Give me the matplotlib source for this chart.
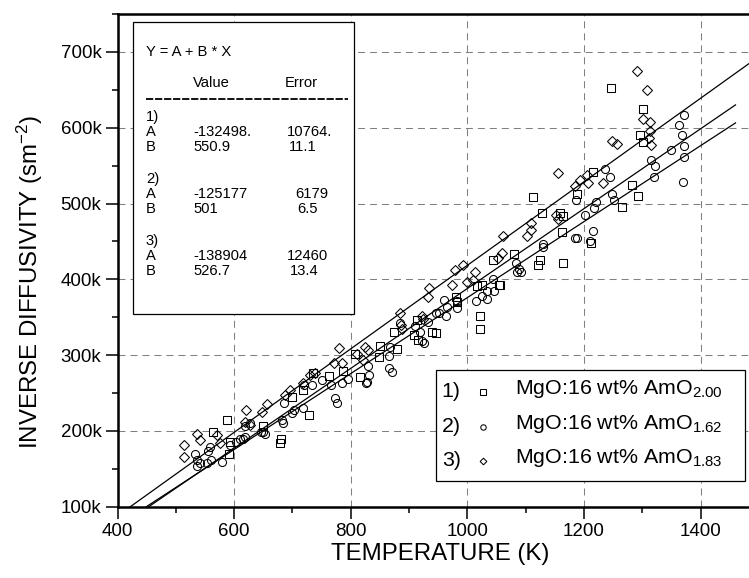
import matplotlib
matplotlib.use('Agg')
import matplotlib.pyplot as plt
from matplotlib.patches import Rectangle
from matplotlib.lines import Line2D
from matplotlib.ticker import MultipleLocator, FuncFormatter
import numpy as np

plt.rcParams['font.family'] = ['Liberation Sans', 'DejaVu Sans']
plt.rcParams['mathtext.fontset'] = 'custom'
plt.rcParams['mathtext.rm'] = 'Liberation Sans'
plt.rcParams['mathtext.it'] = 'Liberation Sans:italic'

# ---- data (temperature K, inverse diffusivity in k sm^-2) ----
t1 = [1302, 1297, 1301, 1216, 1189, 1113, 1128, 1159, 1164, 1283, 1292, 1265, 1162,
      1080, 1125, 1121, 1164, 1056, 1213, 1044, 1022, 1022, 1025, 1017, 1055, 980,
      913, 874, 909, 916, 940, 946, 850, 880, 808, 849, 816, 787, 762, 736, 719, 982,
      587, 563, 593, 591, 680, 678, 650, 728, 1246, 700]
v1 = [625, 591, 581, 542, 512, 508, 487, 488, 483, 524, 510, 495, 463,
      434, 425, 419, 421, 392, 448, 425, 352, 334, 393, 391, 393, 377,
      346, 330, 326, 320, 330, 329, 312, 308, 302, 298, 271, 279, 272, 277, 254, 370,
      214, 199, 186, 169, 189, 184, 206, 221, 652, 245]

t2 = [1372, 1363, 1368, 1372, 1372, 1370, 1349, 1315, 1322, 1321, 1236, 1245, 1248,
      1252, 1220, 1218, 1202, 1186, 1185, 1188, 1216, 1210, 1130, 1129, 1083, 1089,
      1092, 1086, 1044, 1034, 1046, 1025, 1034, 1015, 982, 982, 960, 965, 963, 952,
      947, 933, 919, 925, 923, 910, 885, 867, 866, 871, 866, 830, 831, 826, 828, 796,
      785, 767, 750, 733, 720, 773, 559, 556, 560, 553, 537, 537, 533, 579, 593, 604,
      610, 619, 615, 653, 650, 684, 682, 699, 686, 702, 718, 619, 627, 646, 776, 542]
v2 = [617, 604, 590, 576, 562, 528, 571, 558, 550, 535, 545, 535, 513,
      504, 502, 494, 485, 504, 455, 455, 464, 450, 447, 443, 422, 414,
      409, 410, 400, 385, 384, 378, 374, 371, 372, 362, 373, 363, 351, 356,
      356, 344, 331, 316, 318, 338, 342, 311, 299, 278, 283, 285, 274, 263, 265, 269,
      263, 261, 267, 261, 261, 243, 179, 173, 162, 157, 162, 154, 170, 159, 181, 186,
      189, 192, 189, 196, 199, 210, 214, 223, 237, 227, 230, 206, 210, 199, 237, 157]

t3 = [1301, 1313, 1313, 1312, 1315, 1248, 1256, 1156, 1194, 1206, 1207, 1185, 1233,
      1153, 1156, 1110, 1110, 1103, 1061, 1059, 1053, 993, 979, 1014, 999, 1010, 934,
      933, 973, 885, 886, 888, 922, 924, 780, 825, 830, 771, 785, 810, 821, 739, 730,
      719, 514, 514, 537, 542, 570, 576, 620, 619, 627, 656, 647, 696, 687, 1291, 1308]
v3 = [611, 608, 595, 587, 577, 583, 578, 540, 531, 538, 527, 523, 527,
      485, 480, 474, 465, 457, 457, 435, 428, 419, 412, 410, 396, 399, 389,
      377, 392, 356, 340, 334, 351, 348, 310, 311, 307, 289, 290, 302, 294, 277, 274,
      263, 181, 166, 196, 188, 195, 184, 228, 212, 208, 236, 225, 254, 247, 675, 650]

# linear fits Y = A + B*X
fit_a = [-132498., -125177, -138904]
fit_b = [550.9, 501, 526.7]
fit_err_a = ['10764.', '6179', '12460']
fit_err_b = ['11.1', '6.5', '13.4']
fit_end = [1500, 1460, 1460]

labels = ['MgO:16 wt% AmO$_{2.00}$', 'MgO:16 wt% AmO$_{1.62}$', 'MgO:16 wt% AmO$_{1.83}$']
markers = ['s', 'o', 'D']
msizes = [5.3, 5.8, 4.9]

W, H = 749, 578
fig = plt.figure(figsize=(W / 100, H / 100), dpi=100)


def fx(x):
    return x / W


def fy(y):
    return 1 - y / H


ax_l, ax_r, ax_t, ax_b = 117.5, 758.8, 14, 506.7
ax = fig.add_axes([fx(ax_l), fy(ax_b), (ax_r - ax_l) / W, (ax_b - ax_t) / H])

for t, v, m, ms in zip([t1, t2, t3], [v1, v2, v3], markers, msizes):
    ax.plot(t, np.array(v) * 1000, linestyle='none', marker=m, ms=ms,
            mfc='none', mec='black', mew=0.75, zorder=3)

for a, b, end in zip(fit_a, fit_b, fit_end):
    xx = np.array([400, end])
    ax.plot(xx, a + b * xx, color='black', lw=0.9, zorder=2)

ax.set_xlim(400, 1500)
ax.set_ylim(100000, 750000)
ax.xaxis.set_major_locator(MultipleLocator(200))
ax.xaxis.set_minor_locator(MultipleLocator(100))
ax.yaxis.set_major_locator(MultipleLocator(100000))
ax.yaxis.set_minor_locator(MultipleLocator(50000))
ax.yaxis.set_major_formatter(FuncFormatter(lambda v, p: f'{int(round(v / 1000))}k'))

ax.grid(True, which='major', color='#808080', lw=0.75, linestyle=(0, (6.7, 4.8)))
ax.set_axisbelow(True)

for s in ['left', 'bottom', 'top']:
    ax.spines[s].set_linewidth(1.8)
ax.spines['right'].set_visible(False)
ax.tick_params(which='major', direction='out', length=8.6, width=1.1, labelsize=13.5, pad=3)
ax.tick_params(which='minor', direction='out', length=4.3, width=1.1)
ax.tick_params(top=False, right=False)

ax.set_xlabel('TEMPERATURE (K)', fontsize=17.3)
ax.xaxis.set_label_coords((440 - ax_l) / (ax_r - ax_l), (ax_b - 543) / (ax_b - ax_t))
ax.xaxis.label.set_va('top')
ax.set_ylabel('INVERSE DIFFUSIVITY (sm$^{-2}$)', fontsize=17.3)
ax.yaxis.set_label_coords((45 - ax_l) / (ax_r - ax_l), (ax_b - 282) / (ax_b - ax_t))

# ---- fit parameter box ----
fig.add_artist(Rectangle((fx(133), fy(314)), (354 - 133) / W, (314 - 21.7) / H,
                         transform=fig.transFigure, fc='white', ec='black', lw=0.9, zorder=5))
fs_box = 10.6
fig.text(fx(146), fy(51.7), 'Y = A + B * X', fontsize=fs_box, va='center', zorder=6)
fig.text(fx(193), fy(82.7), 'Value', fontsize=fs_box, va='center', zorder=6)
fig.text(fx(285), fy(82.7), 'Error', fontsize=fs_box, va='center', zorder=6)
fig.add_artist(Line2D([fx(146), fx(348)], [fy(99.3), fy(99.3)], transform=fig.transFigure,
                      color='black', lw=1.3, linestyle=(0, (4, 1)), zorder=6))
err_x = [[287, 289], [295, 297], [287, 290]]
for i in range(3):
    y0 = 116.5 + i * 62.3
    fig.text(fx(146), fy(y0), f'{i + 1})', fontsize=fs_box, va='center', zorder=6)
    fig.text(fx(146), fy(y0 + 15), 'A', fontsize=fs_box, va='center', zorder=6)
    fig.text(fx(146), fy(y0 + 30), 'B', fontsize=fs_box, va='center', zorder=6)
    a_txt = f'{fit_a[i]:.0f}' + ('.' if i == 0 else '')
    b_txt = f'{fit_b[i]:g}'
    fig.text(fx(193), fy(y0 + 15), a_txt, fontsize=fs_box, va='center', zorder=6)
    fig.text(fx(193), fy(y0 + 30), b_txt, fontsize=fs_box, va='center', zorder=6)
    fig.text(fx(err_x[i][0]), fy(y0 + 15), fit_err_a[i], fontsize=fs_box, va='center', zorder=6)
    fig.text(fx(err_x[i][1]), fy(y0 + 30), fit_err_b[i], fontsize=fs_box, va='center', zorder=6)

# ---- legend box ----
fig.add_artist(Rectangle((fx(435.7), fy(481)), (745 - 435.7) / W, (481 - 370) / H,
                         transform=fig.transFigure, fc='white', ec='black', lw=0.9, zorder=5))
row_y = [391.7, 426.7, 461]
for i in range(3):
    fig.text(fx(441.7), fy(row_y[i]), f'{i + 1})', fontsize=15.4, va='center', zorder=6)
    fig.add_artist(Line2D([fx(483)], [fy(row_y[i])], transform=fig.transFigure, marker=markers[i],
                          ms=[3.7, 3.9, 3.4][i], mfc='none', mec='black', mew=0.75,
                          linestyle='none', zorder=6))
    fig.text(fx(515), fy(row_y[i] - 3), labels[i], fontsize=15.4, va='center', zorder=6)

fig.savefig('out.png', dpi=100)
